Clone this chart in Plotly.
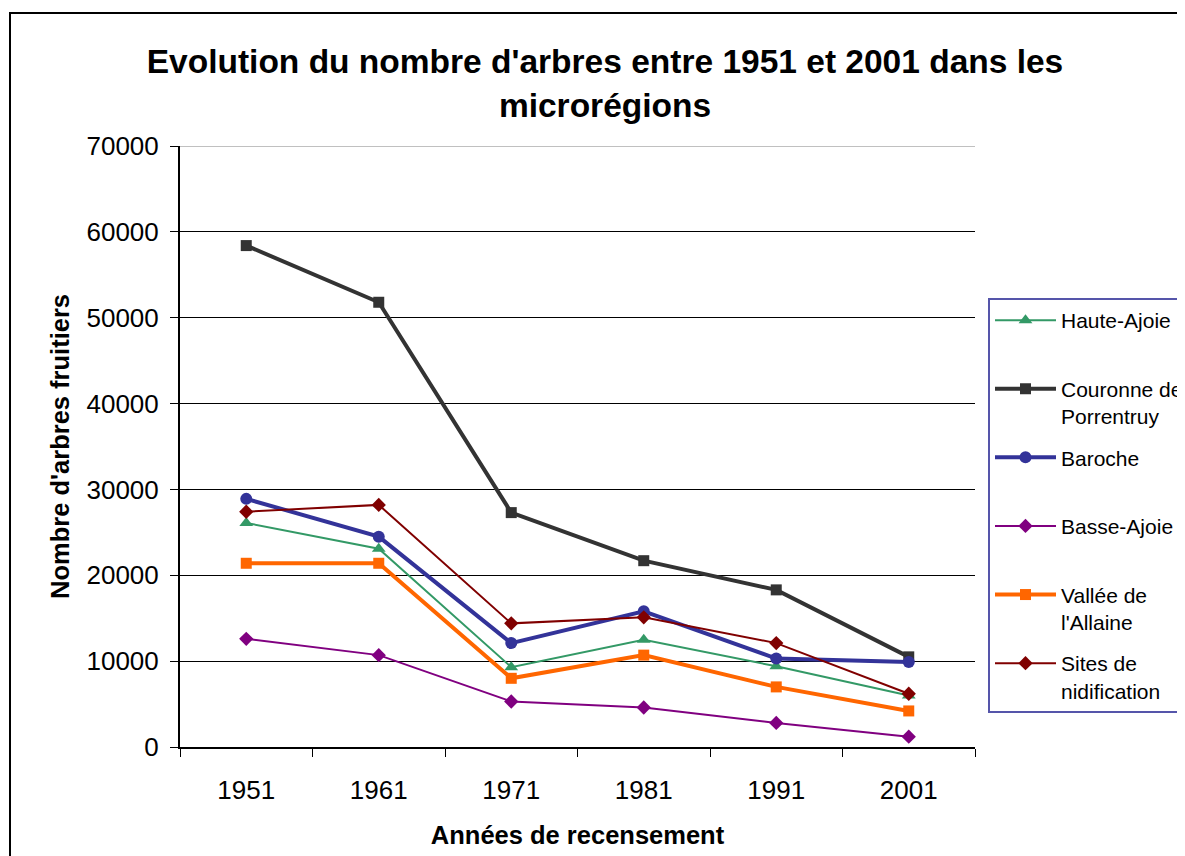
import plotly.graph_objects as go

years = ["1951", "1961", "1971", "1981", "1991", "2001"]
haute_ajoie = [26100, 23100, 9300, 12500, 9400, 6000]
couronne = [58400, 51800, 27300, 21700, 18300, 10500]
baroche = [28900, 24500, 12100, 15800, 10300, 9900]
basse_ajoie = [12600, 10700, 5300, 4600, 2800, 1200]
vallee = [21400, 21400, 8000, 10700, 7000, 4200]
sites = [27400, 28200, 14400, 15100, 12100, 6200]
y_ticks = [0, 10000, 20000, 30000, 40000, 50000, 60000, 70000]

series = [
    ("Haute-Ajoie<br> ", haute_ajoie, "#339966", 2, "triangle-up", 12),
    ("Couronne de<br>Porrentruy", couronne, "#333333", 4, "square", 11),
    ("Baroche<br> ", baroche, "#333399", 4, "circle", 12),
    ("Basse-Ajoie<br> ", basse_ajoie, "#800080", 2, "diamond", 11),
    ("Vallée de<br>l'Allaine", vallee, "#FF6600", 4, "square", 11),
    ("Sites de<br>nidification", sites, "#800000", 2, "diamond", 11),
]

fig = go.Figure()
for i, (name, vals, color, w, sym, ms) in enumerate(series):
    fig.add_trace(go.Scatter(
        x=years, y=vals, name=name, mode="lines+markers",
        line=dict(color=color, width=w),
        marker=dict(symbol=sym, size=ms, color=color),
        legendgroup=f"g{i}",
    ))

font = "Liberation Sans, Arial, sans-serif"
L, T, W, H = 172, 138, 795, 601
fig.update_layout(
    width=1185, height=856,
    margin=dict(l=L, r=1185 - L - W, t=T, b=856 - T - H, autoexpand=False),
    paper_bgcolor="white", plot_bgcolor="white",
    font=dict(family=font, color="black"),
    title=dict(
        text="<b>Evolution du nombre d'arbres entre 1951 et 2001 dans les<br>microrégions</b>",
        x=597 / 1185, xanchor="center", y=1 - 65 / 856, yanchor="middle",
        font=dict(size=33.5, family=font, color="black"),
    ),
    xaxis=dict(
        type="category", range=[-0.5, len(years) - 0.5], autorange=False,
        showline=True, linecolor="black", linewidth=2,
        ticks="outside", tickson="boundaries", ticklen=8, tickcolor="black", tickwidth=1,
        showgrid=False, tickfont=dict(size=26), ticklabelstandoff=19,
        title=dict(text="<b>Années de recensement</b>", font=dict(size=25.5), standoff=22),
    ),
    yaxis=dict(
        range=[0, 70000], tickvals=y_ticks, showline=True, linecolor="black", linewidth=2,
        ticks="outside", ticklen=8, tickcolor="black", tickwidth=1,
        gridcolor="black", gridwidth=1, zeroline=False,
        tickfont=dict(size=26), ticklabelstandoff=6, tickformat="d",
        title=dict(text="<b>Nombre d'arbres fruitiers</b>", font=dict(size=25.5), standoff=10),
    ),
    legend=dict(
        x=(980 - L) / W, xanchor="left", y=(T + H - 290) / H, yanchor="top",
        bordercolor="#5555aa", borderwidth=2, bgcolor="white",
        font=dict(size=21, family=font), valign="top",
        traceorder="grouped", tracegroupgap=11, itemwidth=61,
    ),
    shapes=[
        dict(type="line", xref="paper", yref="y", x0=0, x1=1, y0=70000, y1=70000,
             line=dict(color="#c0c0c0", width=2), layer="above"),
        dict(type="rect", xref="paper", yref="paper",
             x0=(2 - L) / W, x1=1.5, y0=-0.5, y1=(T + H - 5) / H,
             line=dict(color="black", width=2), fillcolor="rgba(0,0,0,0)", layer="below"),
    ],
)

fig.write_html("out.html")
